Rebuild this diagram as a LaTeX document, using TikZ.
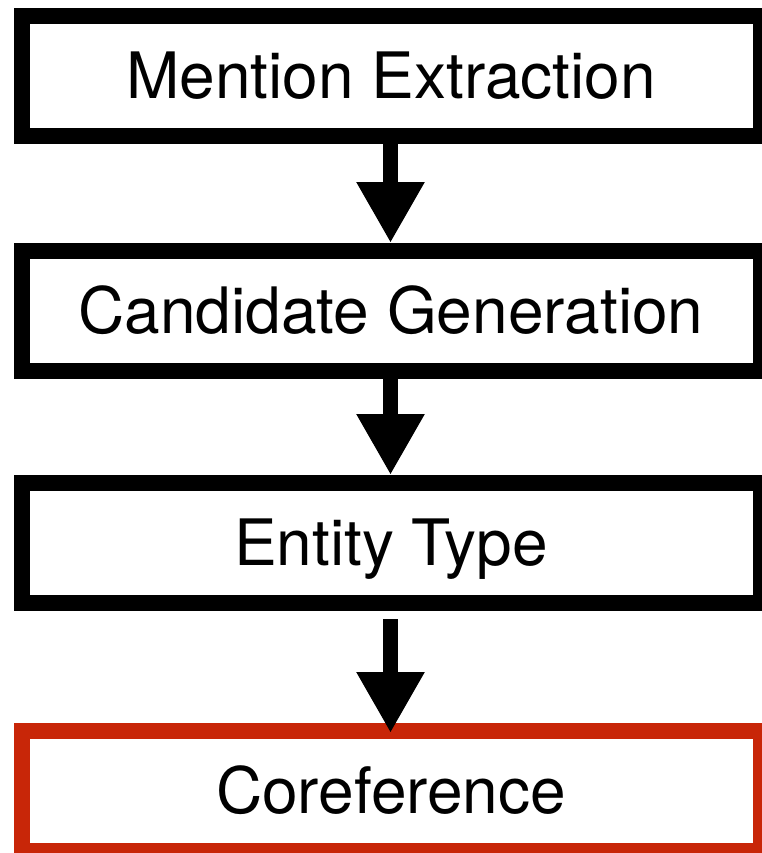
\documentclass[tikz,border=0pt]{standalone}
\usepackage{fontspec}
\setmainfont{TeX Gyre Heros}
\usetikzlibrary{arrows.meta,calc}
\definecolor{boxred}{RGB}{200,38,8}
\tikzset{
  stagebox/.style={draw=black, line width=16pt, minimum width=739pt, minimum height=120pt,
    inner sep=0pt, outer sep=0pt, text height=45.5pt, text depth=0pt,
    font=\fontsize{64}{76}\selectfont},
  flowarrow/.style={line width=15pt, -{Triangle[width=64pt,length=61pt]}}
}
\begin{document}
\begin{tikzpicture}[x=1pt,y=-1pt]
\useasboundingbox (0,0) rectangle (761,853);
\node[stagebox] (a) at (391,76) {Mention Extraction};
\node[stagebox] (b) at (391,311) {Candidate Generation};
\node[stagebox] (c) at (391,543) {Entity Type};
\node[stagebox, draw=boxred] (d) at (391,791) {Coreference};
\draw[flowarrow] ($(a.south)+(-0.5,0)$) -- ($(b.north)+(-0.5,-8)$);
\draw[flowarrow] ($(b.south)+(-0.5,0)$) -- ($(c.north)+(-0.5,-8)$);
\draw[flowarrow] ($(c.south)+(-0.5,16)$) -- ($(d.north)+(-0.5,2)$);
\end{tikzpicture}
\end{document}
